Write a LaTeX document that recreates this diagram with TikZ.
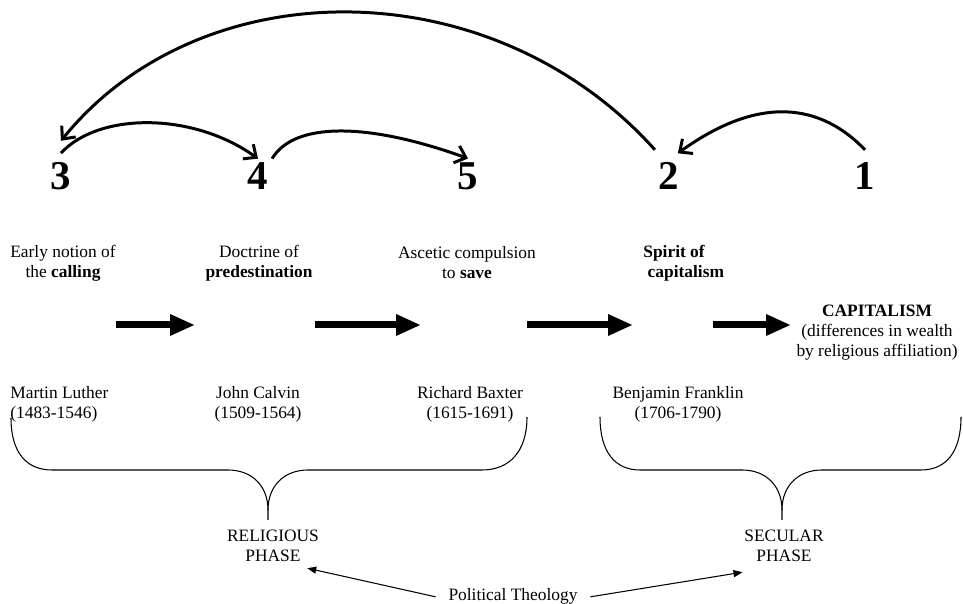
\documentclass[tikz,border=0pt]{standalone}
\usepackage{fontspec}
\setmainfont{Liberation Serif}
\usetikzlibrary{arrows.meta}

\begin{document}
\begin{tikzpicture}[
  x=0.02cm, y=0.02cm,
  font=\fontsize{9.9}{11.4}\selectfont,
  num/.style={font=\fontsize{23.3}{28}\selectfont\bfseries, inner sep=2pt},
  txt/.style={align=center, inner sep=0pt},
  bigarr/.style={line width=0.14cm, -{Triangle[length=0.5cm,width=0.4cm]}},
  bendarr/.style={line width=1.7pt, -{Straight Barb[length=2mm,width=3.6mm]}},
  phasebrace/.style={line width=0.6pt},
  polarr/.style={line width=0.6pt, -{Triangle[length=1.8mm,width=1.4mm]}}
]
\useasboundingbox (0,0) rectangle (963,604);

% stage numbers
\node[num] (n3) at (61,428)  {3};
\node[num] (n4) at (258,428) {4};
\node[num] (n5) at (468,428) {5};
\node[num] (n2) at (669,428) {2};
\node[num] (n1) at (865,428) {1};

\draw[bendarr] ([yshift=3pt]n3.north) .. controls (99,492) and (193,492) .. (n4.north);
\draw[bendarr] (n4.north east) .. controls (294,482) and (367,482) .. (n5.north);
\draw[bendarr] ([yshift=5pt]n2.north west) .. controls (492,636) and (201,636) .. ([yshift=10pt]n3.north);
\draw[bendarr] ([yshift=5pt]n1.north) .. controls (821,500) and (760,510) .. ([xshift=-3pt,yshift=3pt]n2.north east);

% ideas
\node[txt] (calling) at (63,341)  {Early notion of\\the \textbf{calling}};
\node[txt] (predest) at (259,341) {Doctrine of\\\textbf{predestination}};
\node[txt] (save)    at (467,341) {Ascetic compulsion\\to \textbf{save}};
\node[txt,align=left,anchor=west] (spirit) at (643,341) {\textbf{Spirit of}\\~\textbf{capitalism}};
\node[txt] (capital) at (877,271) {\textbf{CAPITALISM}\\(differences in wealth\\by religious affiliation)};

\coordinate (a1) at (116,279); \coordinate (b1) at (195,279);
\coordinate (a2) at (315,279); \coordinate (b2) at (421,279);
\coordinate (a3) at (527,279); \coordinate (b3) at (633,279);
\coordinate (a4) at (713,279); \coordinate (b4) at (791,279);
\draw[bigarr] (a1) -- (b1);
\draw[bigarr] (a2) -- (b2);
\draw[bigarr] (a3) -- (b3);
\draw[bigarr] (a4) -- (b4);

% thinkers
\node[txt,align=left,anchor=west] (luther) at (10,200) {Martin Luther\\(1483-1546)};
\node[txt] (calvin)   at (258,200) {John Calvin\\(1509-1564)};
\node[txt] (baxter)   at (470,200) {Richard Baxter\\(1615-1691)};
\node[txt] (franklin) at (678,200) {Benjamin Franklin\\(1706-1790)};

% phases
\draw[phasebrace] (11,186) .. controls (11,152) and (26,134) .. (52,134) -- (228,134)
  .. controls (252,134) and (268,118) .. (268,94) -- (268,84);
\draw[phasebrace] (268,94) .. controls (268,118) and (284,134) .. (308,134) -- (482,134)
  .. controls (509,134) and (527,152) .. (527,187);
\draw[phasebrace] (600,187) .. controls (600,152) and (615,134) .. (640,134) -- (742,134)
  .. controls (766,134) and (782,118) .. (782,94) -- (782,84);
\draw[phasebrace] (782,94) .. controls (782,118) and (798,134) .. (822,134) -- (921,134)
  .. controls (946,134) and (961,152) .. (961,187);

\node[txt] (rel) at (273,58) {RELIGIOUS\\PHASE};
\node[txt] (sec) at (784,58) {SECULAR\\PHASE};
\node[txt,anchor=base,inner xsep=0.25cm] (pt) at (513,3) {Political Theology};
\draw[polarr] (pt.west) -- ([xshift=-0.24cm,yshift=-0.12cm]rel.south east);
\draw[polarr] (pt.east) -- ([xshift=-0.03cm,yshift=-0.2cm]sec.south west);
\end{tikzpicture}
\end{document}
